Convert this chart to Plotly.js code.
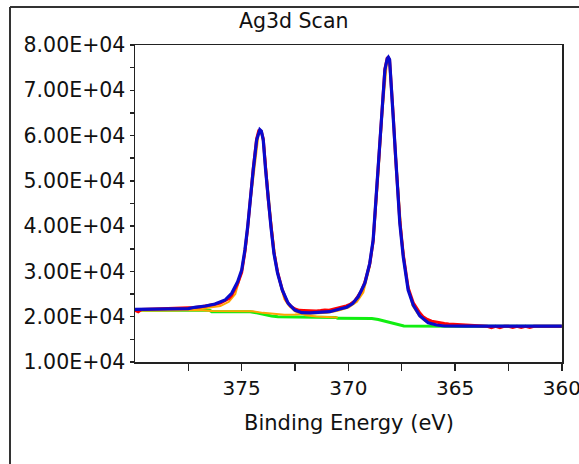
<!DOCTYPE html>
<html>
<head>
<meta charset="utf-8">
<script src="https://cdn.plot.ly/plotly-3.0.1.min.js"></script>
<style>
  html, body { margin: 0; padding: 0; background: #ffffff; }
  #chart { width: 579px; height: 464px; }
</style>
</head>
<body>
<div id="chart"></div>
<script>
// ---- Data ----
const chartTitle = "Ag3d Scan";
const xAxisTitle = "Binding Energy (eV)";

// Fit envelope (blue)
const envelopeE = [380.0, 379.0, 378.0, 377.5, 377.2, 376.7, 376.25, 375.78, 375.47, 375.19, 375.0, 374.85, 374.72, 374.61, 374.46, 374.3, 374.2, 374.15, 374.08, 373.99, 373.88, 373.76, 373.63, 373.49, 373.32, 373.1, 372.82, 372.51, 372.19, 371.8, 371.3, 370.87, 370.4, 370.08, 369.8, 369.54, 369.23, 369.0, 368.84, 368.7, 368.56, 368.44, 368.29, 368.18, 368.13, 368.07, 368.02, 367.9, 367.79, 367.67, 367.59, 367.43, 367.2, 366.96, 366.65, 366.26, 365.87, 365.5, 364.5, 360.0];
const envelopeI = [21640, 21640, 21750, 21800, 22080, 22370, 22810, 23690, 25170, 27730, 30320, 34730, 39880, 45770, 52400, 59020, 61000, 61300, 61000, 59020, 52400, 45770, 39880, 34000, 29600, 25900, 22960, 21480, 20890, 20850, 20900, 21110, 21700, 22100, 22900, 24400, 27380, 31790, 36940, 46500, 54610, 64170, 74480, 77000, 77300, 76800, 73000, 64170, 54610, 46150, 40630, 33250, 25900, 22590, 20160, 18680, 18170, 17950, 17910, 17910];

// Raw data (red)
const rawE = [380.0, 379.85, 379.7, 379.4, 379.0, 378.6, 378.2, 377.8, 377.5, 377.2, 376.9, 376.6, 376.3, 376.0, 375.78, 375.6, 375.47, 375.3, 375.19, 375.0, 374.85, 374.72, 374.61, 374.46, 374.3, 374.2, 374.15, 374.08, 373.99, 373.88, 373.76, 373.63, 373.49, 373.32, 373.1, 372.9, 372.7, 372.5, 372.3, 372.1, 371.9, 371.7, 371.5, 371.3, 371.1, 370.9, 370.7, 370.5, 370.3, 370.1, 369.9, 369.7, 369.54, 369.4, 369.23, 369.0, 368.84, 368.7, 368.56, 368.44, 368.29, 368.18, 368.13, 368.07, 368.02, 367.9, 367.79, 367.67, 367.59, 367.43, 367.2, 366.96, 366.8, 366.65, 366.5, 366.3, 366.1, 365.9, 365.7, 365.5, 365.3, 365.1, 364.9, 364.7, 364.5, 364.3, 364.1, 363.9, 363.7, 363.5, 363.3, 363.1, 362.9, 362.7, 362.5, 362.3, 362.1, 361.9, 361.7, 361.5, 361.3, 361.0, 360.5, 360.0];
const rawI = [21400, 21100, 21600, 21650, 21700, 21650, 21750, 21850, 21900, 22050, 22200, 22400, 22700, 23000, 23500, 24000, 24700, 26200, 27300, 29800, 34300, 39600, 45900, 52700, 59300, 61100, 61200, 60900, 59300, 52800, 46000, 40300, 34300, 29900, 26000, 23500, 22300, 21700, 21400, 21350, 21300, 21400, 21250, 21350, 21500, 21450, 21700, 21900, 22100, 22400, 22800, 23500, 24600, 25600, 27600, 31600, 36600, 46000, 54800, 64600, 74700, 77100, 77200, 76700, 73500, 64600, 55200, 46700, 41200, 33800, 26400, 23100, 21800, 20800, 20000, 19400, 19000, 18800, 18600, 18500, 18400, 18350, 18300, 18200, 18100, 18000, 17950, 17900, 17920, 17880, 17600, 17900, 17600, 17900, 17880, 17620, 17900, 17650, 17900, 17620, 17900, 17880, 17900, 17890];

// Background (green)
const bgE = [380.0, 376.5, 376.4, 374.6, 374.3, 374.0, 373.6, 373.3, 372.0, 370.6, 370.5, 368.9, 368.6, 368.3, 368.0, 367.7, 367.4, 365.0, 360.0];
const bgI = [21400, 21400, 21120, 21100, 20850, 20500, 20150, 20000, 19900, 19850, 19650, 19600, 19400, 19000, 18600, 18200, 17950, 17910, 17910];

// Component 1 (orange) = Ag3d3/2 peak + background
const comp1E = [380.0, 378.0, 377.0, 376.5, 376.0, 375.6, 375.3, 375.0, 374.8, 374.6, 374.4, 374.2, 374.15, 374.08, 373.95, 373.8, 373.6, 373.4, 373.2, 373.0, 372.8, 372.5, 372.2, 372.0, 371.5, 371.0, 370.5];
const comp1I = [21350, 21400, 21700, 21950, 22350, 23300, 25000, 30000, 35500, 45000, 53500, 60700, 61000, 60700, 57500, 49500, 40000, 32000, 27300, 23900, 22500, 21200, 20600, 20300, 20050, 19950, 19850];

// Component 2 (orange) = Ag3d5/2 peak + background
const comp2E = [380.0, 377.0, 376.4, 375.0, 374.5, 374.0, 373.5, 373.0, 372.5, 372.0, 371.5, 371.0, 370.5, 370.0, 369.6, 369.3, 369.0, 368.8, 368.6, 368.4, 368.2, 368.13, 368.05, 367.9, 367.7, 367.5, 367.3, 367.0, 366.7, 366.4, 366.0, 365.5, 365.0];
const comp2I = [21450, 21500, 21250, 21300, 21200, 20850, 20600, 20450, 20500, 20600, 20750, 20900, 21300, 22000, 23300, 25400, 31000, 38500, 51000, 65500, 76000, 76900, 75000, 64000, 50500, 37500, 29000, 22500, 20300, 19000, 18200, 17950, 17910];

// Axis ticks
const yTickVals = [10000, 15000, 20000, 25000, 30000, 35000, 40000, 45000, 50000, 55000, 60000, 65000, 70000, 75000, 80000];
const yTickText = ["1.00E+04", "", "2.00E+04", "", "3.00E+04", "", "4.00E+04", "", "5.00E+04", "", "6.00E+04", "", "7.00E+04", "", "8.00E+04"];
const xTickVals = [377.5, 375, 372.5, 370, 367.5, 365, 362.5, 360];
const xTickText = ["", "375", "", "370", "", "365", "", "360"];

// ---- Plot ----
const W = 579, H = 464;
const mL = 135, mR = 17, mT = 45, mB = 102;
const pw = W - mL - mR, ph = H - mT - mB;
const px = v => (v - mL) / pw;           // pixel -> paper x
const py = v => (H - mB - v) / ph;       // pixel -> paper y

const font = "DejaVu Sans, Verdana, sans-serif";

const traces = [
  { x: bgE, y: bgI, mode: "lines", line: { color: "#11ee11", width: 3 }, hoverinfo: "skip" },
  { x: comp2E, y: comp2I, mode: "lines", line: { color: "#ffa500", width: 2 }, hoverinfo: "skip" },
  { x: comp1E, y: comp1I, mode: "lines", line: { color: "#ffa500", width: 2 }, hoverinfo: "skip" },
  { x: rawE, y: rawI, mode: "lines", line: { color: "#ff0000", width: 3 }, hoverinfo: "skip" },
  { x: envelopeE, y: envelopeI, mode: "lines", line: { color: "#0a0acc", width: 3.2 }, hoverinfo: "skip" }
];

const layout = {
  width: W, height: H,
  margin: { l: mL, r: mR, t: mT, b: mB, pad: 0 },
  paper_bgcolor: "#ffffff",
  plot_bgcolor: "#ffffff",
  showlegend: false,
  font: { family: font, size: 20, color: "#111111" },
  xaxis: {
    range: [380, 359.99],
    tickmode: "array", tickvals: xTickVals, ticktext: xTickText,
    ticks: "outside", ticklen: 7, tickwidth: 1.5, tickcolor: "#222",
    showline: true, linecolor: "#222", linewidth: 1.5, mirror: true,
    showgrid: false, zeroline: false,
    ticklabeloverflow: "allow",
    tickfont: { family: font, size: 20, color: "#111" }
  },
  yaxis: {
    range: [10000, 80000],
    tickmode: "array", tickvals: yTickVals, ticktext: yTickText,
    ticks: "outside", ticklen: 4, tickwidth: 1.5, tickcolor: "#222",
    showline: true, linecolor: "#222", linewidth: 1.5, mirror: true,
    showgrid: false, zeroline: false,
    tickfont: { family: font, size: 20.5, color: "#111" }
  },
  annotations: [
    { text: chartTitle, xref: "paper", yref: "paper", x: px(293.6), y: py(21), xanchor: "center", yanchor: "middle", showarrow: false, font: { family: font, size: 20.5, color: "#111" } },
    { text: xAxisTitle, xref: "paper", yref: "paper", x: 0.5, y: py(423), xanchor: "center", yanchor: "middle", showarrow: false, font: { family: font, size: 21, color: "#111" } }
  ],
  shapes: [
    { type: "line", xref: "paper", yref: "paper", x0: px(10), x1: px(10), y0: py(7), y1: py(480), line: { color: "#333", width: 2 } },
    { type: "line", xref: "paper", yref: "paper", x0: px(10), x1: px(600), y0: py(7), y1: py(7), line: { color: "#333", width: 2 } }
  ]
};

Plotly.newPlot("chart", traces, layout, { staticPlot: true, displayModeBar: false });
</script>
</body>
</html>
